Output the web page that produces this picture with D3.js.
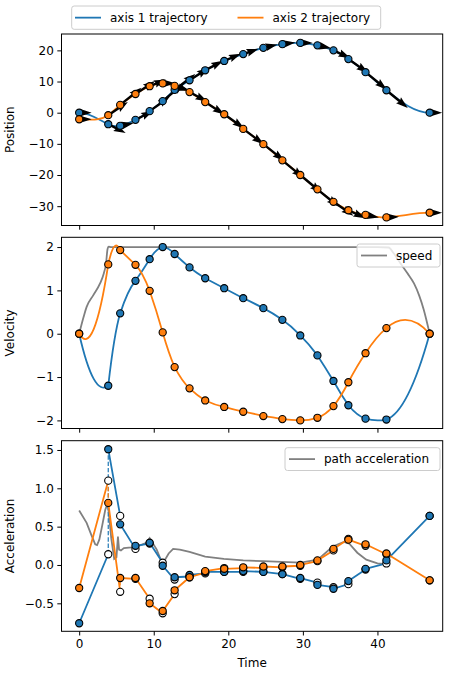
<!DOCTYPE html>
<html>
<head>
<meta charset="utf-8">
<script src="https://cdn.jsdelivr.net/npm/d3@7"></script>
<style>
  body { margin: 0; background: #fff; }
  text { font-family: "DejaVu Sans", sans-serif; }
</style>
</head>
<body>
<div id="chart"></div>
<script>
// waypoint times (shared by all three panels)
const knotTimes = [0, 3.9, 5.5, 7.55, 9.45, 11.2, 12.8, 14.8, 16.9, 19.45, 22.0, 24.7, 27.25, 29.65, 31.95, 34.1, 36.1, 38.4, 41.2, 47.0];

// positions at the waypoints
const axis1Position = [0, -3.7, -4.2, -2.3, 0.5, 3.7, 7.3, 10.4, 13.6, 16.6, 18.8, 20.8, 22.0, 22.4, 21.6, 20.0, 17.2, 13.0, 7.2, 0];
const axis2Position = [-2.1, -0.8, 2.5, 6.0, 8.5, 9.4, 8.6, 6.6, 3.4, -0.5, -5.2, -10.1, -15.3, -20.0, -24.6, -28.6, -31.3, -32.8, -33.6, -32.1];

// velocities at the waypoints
const axis1Velocity = [0, -1.2, 0.47, 1.22, 1.72, 2.0, 1.84, 1.53, 1.28, 1.05, 0.82, 0.59, 0.32, -0.04, -0.5, -1.09, -1.65, -1.96, -1.98, 0];
const axis2Velocity = [0, 1.6, 1.93, 1.59, 0.99, 0.03, -0.77, -1.26, -1.54, -1.69, -1.8, -1.9, -1.97, -2.0, -1.94, -1.67, -1.12, -0.45, 0.13, 0];

// acceleration just after each waypoint (filled) and just before it (open)
const axis1AccAfter = [-0.76, 1.51, 0.53, 0.25, 0.29, -0.01, -0.16, -0.13, -0.09, -0.09, -0.08, -0.09, -0.12, -0.17, -0.26, -0.31, -0.21, -0.05, 0.06, 0.64];
const axis1AccBefore = [null, 0.14, 0.64, 0.21, 0.28, 0.03, -0.19, -0.15, -0.11, -0.09, -0.09, -0.09, -0.12, -0.18, -0.23, -0.29, -0.25, -0.06, 0.02, 0.64];
const axis2AccAfter = [-0.30, 0.81, -0.17, -0.17, -0.50, -0.60, -0.33, -0.16, -0.08, -0.05, -0.03, -0.02, -0.02, 0.0, 0.06, 0.21, 0.33, 0.27, 0.15, -0.20];
const axis2AccBefore = [null, 1.10, -0.35, -0.18, -0.44, -0.63, -0.38, -0.16, -0.10, -0.04, -0.04, -0.04, -0.03, -0.01, 0.05, 0.19, 0.34, 0.25, 0.14, -0.20];

// gray speed curve
const speedTime = [0, 0.6, 1.0, 1.9, 2.8, 3.3, 3.6, 3.8, 3.95, 4.3, 10, 20, 30, 40, 41.5, 42.2, 43.1, 44.0, 44.9, 45.6, 46.2, 47];
const speedValue = [0, 0.39, 0.62, 0.89, 1.16, 1.39, 1.62, 1.95, 2.01, 2.0, 2.0, 2.0, 2.0, 2.0, 1.99, 1.85, 1.62, 1.40, 1.16, 0.88, 0.56, 0];

// gray path acceleration curve
const pathAccTime = [0, 1.0, 1.6, 2.15, 2.4, 2.7, 3.1, 3.5, 3.8, 3.95, 4.3, 4.7, 5.0, 5.2, 5.35, 5.6, 6.0, 7.0, 8.0, 9.0, 9.45, 10.4, 11.1, 11.4, 12.0, 12.6, 13.5, 14.8, 16.9, 19.4, 22.0, 24.7, 27.2, 29.7, 32.0, 34.0, 35.5, 36.2, 37.3, 38.5, 40.0, 41.2];
const pathAccValue = [0.71, 0.55, 0.40, 0.27, 0.26, 0.33, 0.52, 0.72, 0.80, 0.70, 0.35, 0.08, 0.10, 0.37, 0.20, 0.19, 0.22, 0.23, 0.25, 0.29, 0.35, 0.20, 0.03, 0.05, 0.15, 0.21, 0.20, 0.17, 0.11, 0.08, 0.06, 0.05, 0.04, 0.03, 0.07, 0.24, 0.30, 0.28, 0.16, 0.07, 0.02, 0.01];

const xTicks = [0, 10, 20, 30, 40];
const posTicks = [-30, -20, -10, 0, 10, 20];
const velTicks = [-2, -1, 0, 1, 2];
const accTicks = [-0.5, 0, 0.5, 1, 1.5];

const blue = "#1f77b4", orange = "#ff7f0e";
const W = 450, H = 675;
const left = 61.5, right = 442.7;
const fontSize = 12;

const svg = d3.select("#chart").append("svg")
  .attr("width", W).attr("height", H);

const x = d3.scaleLinear().domain([-2.37, 48.75]).range([left, right]);

const panels = [
  { top: 34, bottom: 225.5, domain: [-36.2, 25.25], ticks: posTicks, label: "Position", fmt: d3.format("d") },
  { top: 237.3, bottom: 428.5, domain: [-2.187, 2.225], ticks: velTicks, label: "Velocity", fmt: d3.format("d") },
  { top: 440.7, bottom: 631.3, domain: [-0.865, 1.621], ticks: accTicks, label: "Acceleration", fmt: d3.format(".1f") }
];

panels.forEach((p, i) => {
  p.y = d3.scaleLinear().domain(p.domain).range([p.bottom, p.top]);
  p.g = svg.append("g");
  svg.append("clipPath").attr("id", "clip" + i)
    .append("rect").attr("x", left).attr("y", p.top)
    .attr("width", right - left).attr("height", p.bottom - p.top);
  p.plot = p.g.append("g").attr("clip-path", `url(#clip${i})`);

  // y axis
  p.g.append("g")
    .attr("transform", `translate(${left},0)`)
    .call(d3.axisLeft(p.y).tickValues(p.ticks).tickSize(4.2).tickPadding(3.5).tickFormat(p.fmt))
    .call(s => s.select(".domain").remove())
    .attr("font-size", fontSize).attr("font-family", "DejaVu Sans")
    .call(s => s.selectAll("text").attr("fill", "#000"))
    .call(s => s.selectAll("line").attr("stroke", "#000"));

  // x axis (labels only on the bottom panel)
  p.g.append("g")
    .attr("transform", `translate(0,${p.bottom})`)
    .call(d3.axisBottom(x).tickValues(xTicks).tickSize(4.2).tickPadding(3.5)
      .tickFormat(i === 2 ? d3.format("d") : () => ""))
    .call(s => s.select(".domain").remove())
    .attr("font-size", fontSize).attr("font-family", "DejaVu Sans")
    .call(s => s.selectAll("text").attr("fill", "#000"))
    .call(s => s.selectAll("line").attr("stroke", "#000"));

  // y label
  p.g.append("text")
    .attr("transform", `translate(10,${(p.top + p.bottom) / 2}) rotate(-90)`)
    .attr("text-anchor", "middle")
    .attr("dominant-baseline", "central")
    .attr("font-size", fontSize)
    .text(p.label);
});

const [pPos, pVel, pAcc] = panels;

// ---------- Position panel ----------
const series = [
  { color: blue, pos: axis1Position, vel: axis1Velocity, after: axis1AccAfter, before: axis1AccBefore },
  { color: orange, pos: axis2Position, vel: axis2Velocity, after: axis2AccAfter, before: axis2AccBefore }
];

// cubic segments between waypoints, tangent given by the velocity
series.forEach(s => {
  const path = d3.path();
  path.moveTo(x(knotTimes[0]), pPos.y(s.pos[0]));
  for (let i = 0; i < knotTimes.length - 1; i++) {
    const t0 = knotTimes[i], t1 = knotTimes[i + 1], dt = t1 - t0;
    path.bezierCurveTo(
      x(t0 + dt / 3), pPos.y(s.pos[i] + s.vel[i] * dt / 3),
      x(t1 - dt / 3), pPos.y(s.pos[i + 1] - s.vel[i + 1] * dt / 3),
      x(t1), pPos.y(s.pos[i + 1]));
  }
  pPos.plot.append("path").attr("d", path.toString())
    .attr("fill", "none").attr("stroke", s.color).attr("stroke-width", 1.8);
});

// quiver arrows along the velocity direction
function arrowPath(x0, y0, dx, dy, len) {
  const n = Math.hypot(dx, dy), ux = dx / n, uy = dy / n;
  const nx = -uy, ny = ux;
  const w = 2.4, hw = w / 2, HL = 5 * w, HW = 1.6 * w, HA = 4.5 * w;
  const k = Math.min(1, len / HL);
  const pts = [[0, -hw * k], [len - HA * k, -hw * k], [len - HL * k, -HW * k], [len, 0],
    [len - HL * k, HW * k], [len - HA * k, hw * k], [0, hw * k]];
  return "M" + pts.map(([a, b]) => (x0 + ux * a + nx * b) + "," + (y0 + uy * a + ny * b)).join("L") + "Z";
}
series.forEach(s => {
  pPos.plot.append("g").selectAll("path")
    .data(knotTimes)
    .join("path")
    .attr("d", (t, i) => {
      const x0 = x(t), y0 = pPos.y(s.pos[i]);
      const dx = x(t + 1) - x0, dy = pPos.y(s.pos[i] + s.vel[i]) - y0;
      return arrowPath(x0, y0, dx, dy, 12.5 * Math.hypot(1, s.vel[i]));
    })
    .attr("fill", "#000");
});
series.forEach(s => {
  pPos.plot.append("g").selectAll("circle")
    .data(knotTimes)
    .join("circle")
    .attr("cx", t => x(t))
    .attr("cy", (t, i) => pPos.y(s.pos[i]))
    .attr("r", 3.6)
    .attr("fill", s.color).attr("stroke", "#000").attr("stroke-width", 1.1);
});

// ---------- Velocity panel ----------
const speedData = speedTime.map((t, i) => ({ t, v: speedValue[i] }));
pVel.plot.append("path").datum(speedData)
  .attr("d", d3.line().x(d => x(d.t)).y(d => pVel.y(d.v)).curve(d3.curveMonotoneX))
  .attr("fill", "none").attr("stroke", "gray").attr("stroke-width", 1.8);

// quadratic segments, starting slope given by the acceleration after each waypoint
series.forEach(s => {
  const path = d3.path();
  path.moveTo(x(knotTimes[0]), pVel.y(s.vel[0]));
  for (let i = 0; i < knotTimes.length - 1; i++) {
    const t0 = knotTimes[i], t1 = knotTimes[i + 1], dt = t1 - t0;
    path.quadraticCurveTo(
      x(t0 + dt / 2), pVel.y(s.vel[i] + s.after[i] * dt / 2),
      x(t1), pVel.y(s.vel[i + 1]));
  }
  pVel.plot.append("path").attr("d", path.toString())
    .attr("fill", "none").attr("stroke", s.color).attr("stroke-width", 1.8);
});
series.forEach(s => {
  pVel.plot.append("g").selectAll("circle")
    .data(knotTimes)
    .join("circle")
    .attr("cx", t => x(t))
    .attr("cy", (t, i) => pVel.y(s.vel[i]))
    .attr("r", 3.6)
    .attr("fill", s.color).attr("stroke", "#000").attr("stroke-width", 1.1);
});

// ---------- Acceleration panel ----------
const pathAccData = pathAccTime.map((t, i) => ({ t, a: pathAccValue[i] }));
pAcc.plot.append("path").datum(pathAccData)
  .attr("d", d3.line().x(d => x(d.t)).y(d => pAcc.y(d.a)))
  .attr("fill", "none").attr("stroke", "gray").attr("stroke-width", 1.8);

series.forEach(s => {
  // linear pieces from "after" at one waypoint to "before" at the next
  const segs = d3.range(knotTimes.length - 1).map(i => [
    [knotTimes[i], s.after[i]], [knotTimes[i + 1], s.before[i + 1]]
  ]);
  pAcc.plot.append("path")
    .attr("d", segs.map(sg => d3.line().x(d => x(d[0])).y(d => pAcc.y(d[1]))(sg)).join(""))
    .attr("fill", "none").attr("stroke", s.color).attr("stroke-width", 1.8);
  // jumps at the waypoints
  pAcc.plot.append("g").selectAll("line")
    .data(d3.range(1, knotTimes.length - 1))
    .join("line")
    .attr("x1", i => x(knotTimes[i])).attr("x2", i => x(knotTimes[i]))
    .attr("y1", i => pAcc.y(s.before[i])).attr("y2", i => pAcc.y(s.after[i]))
    .attr("stroke", s.color).attr("stroke-width", 1.2)
    .attr("stroke-dasharray", "4.4,1.9");
});
series.forEach(s => {
  pAcc.plot.append("g").selectAll("circle")
    .data(d3.range(1, knotTimes.length))
    .join("circle")
    .attr("cx", i => x(knotTimes[i]))
    .attr("cy", i => pAcc.y(s.before[i]))
    .attr("r", 3.6)
    .attr("fill", "#fff").attr("stroke", "#000").attr("stroke-width", 1.1);
});
series.forEach(s => {
  pAcc.plot.append("g").selectAll("circle")
    .data(knotTimes)
    .join("circle")
    .attr("cx", t => x(t))
    .attr("cy", (t, i) => pAcc.y(s.after[i]))
    .attr("r", 3.6)
    .attr("fill", s.color).attr("stroke", "#000").attr("stroke-width", 1.1);
});

// spines
panels.forEach(p => {
  p.g.append("rect")
    .attr("x", left).attr("y", p.top)
    .attr("width", right - left).attr("height", p.bottom - p.top)
    .attr("fill", "none").attr("stroke", "#000").attr("stroke-width", 1);
});

// x label
svg.append("text")
  .attr("x", (left + right) / 2).attr("y", 667)
  .attr("text-anchor", "middle").attr("font-size", fontSize)
  .text("Time");

// ---------- Legends ----------
function legend(x0, y0, w, h, items) {
  const g = svg.append("g");
  g.append("rect").attr("x", x0).attr("y", y0).attr("width", w).attr("height", h)
    .attr("rx", 2.5).attr("fill", "#fff").attr("fill-opacity", 0.8)
    .attr("stroke", "#ccc").attr("stroke-width", 1);
  items.forEach(it => {
    const cy = y0 + h / 2;
    g.append("line").attr("x1", it.x).attr("x2", it.x + 26)
      .attr("y1", cy).attr("y2", cy)
      .attr("stroke", it.color).attr("stroke-width", 1.8);
    g.append("text").attr("x", it.x + 35).attr("y", cy)
      .attr("dominant-baseline", "central").attr("font-size", fontSize)
      .text(it.label);
  });
}
legend(71.7, 6, 309, 23.3, [
  { x: 75, color: blue, label: "axis 1 trajectory" },
  { x: 237.5, color: orange, label: "axis 2 trajectory" }
]);
legend(357, 244, 83, 23, [{ x: 361, color: "gray", label: "speed" }]);
legend(285, 447.7, 155, 22.8, [{ x: 289, color: "gray", label: "path acceleration" }]);
</script>
</body>
</html>
